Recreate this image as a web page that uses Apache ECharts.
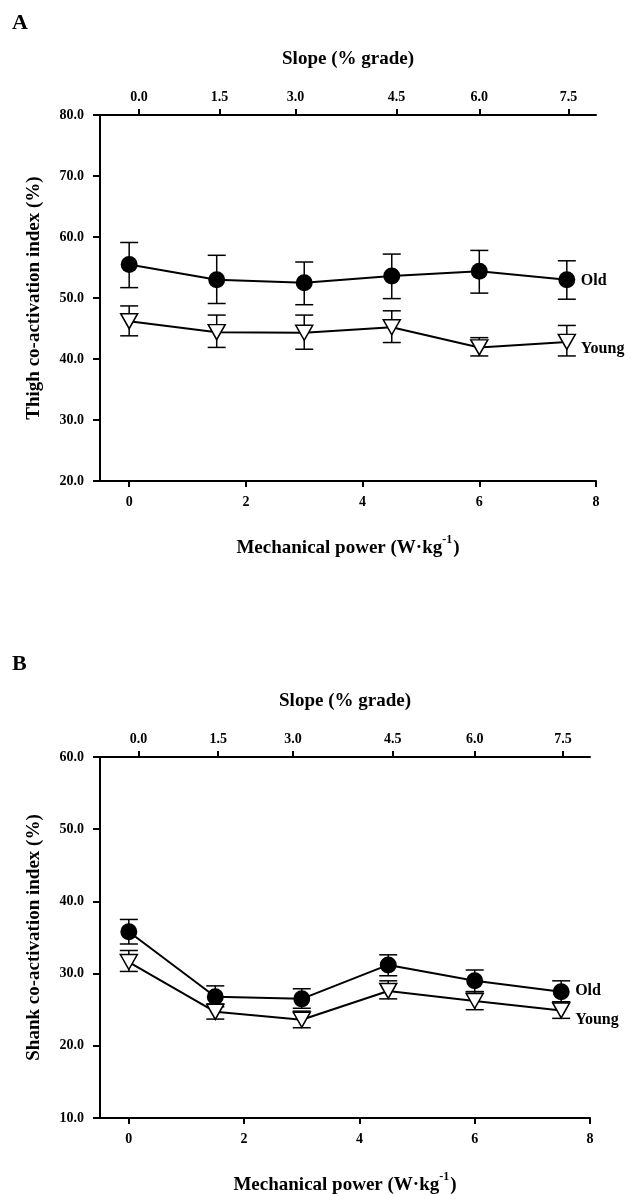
<!DOCTYPE html>
<html>
<head>
<meta charset="utf-8">
<script src="https://cdn.jsdelivr.net/npm/echarts@6/dist/echarts.min.js"></script>
<style>
  html, body { margin: 0; padding: 0; background: #fff; }
  #chart { width: 642px; height: 1194px; }
</style>
</head>
<body>
<div id="chart"></div>
<script>
// mechanical power (W/kg) at each slope step
const powerX = [0, 1.5, 3, 4.5, 6, 7.5];
const powerTicks = [0, 2, 4, 6, 8];

// top axis: slope labels and where they sit on the power scale
const slopeLabels = ['0.0', '1.5', '3.0', '4.5', '6.0', '7.5'];
const slopeTickAt = [0.17, 1.55, 2.85, 4.58, 6.0, 7.53];

// A: thigh co-activation index (%)
const thighOld = [55.5, 53.0, 52.5, 53.6, 54.4, 53.0];
const thighOldHi = [59.1, 57.0, 55.9, 57.2, 57.8, 56.1];
const thighOldLo = [51.7, 49.1, 48.9, 49.9, 50.8, 49.8];
const thighYoung = [46.2, 44.4, 44.3, 45.2, 41.9, 42.8];
const thighYoungHi = [48.7, 47.2, 47.2, 47.9, 43.5, 45.5];
const thighYoungLo = [43.8, 41.9, 41.6, 42.7, 40.5, 40.5];

// B: shank co-activation index (%)
const shankOld = [35.8, 26.8, 26.5, 31.2, 29.0, 27.5];
const shankOldHi = [37.5, 28.3, 27.9, 32.6, 30.5, 29.0];
const shankOldLo = [34.1, 25.4, 25.2, 29.7, 27.5, 26.1];
const shankYoung = [31.6, 24.7, 23.6, 27.6, 26.2, 24.9];
const shankYoungHi = [33.2, 25.8, 24.8, 29.0, 27.5, 26.1];
const shankYoungLo = [30.3, 23.7, 22.5, 26.5, 25.0, 23.8];

const FONT = 'Liberation Serif';
const txt = { fontFamily: FONT, fontWeight: 'bold', color: '#000' };

const pairs = (ys) => powerX.map((x, i) => [x, ys[i]]);
const bars = (lo, hi) => powerX.map((x, i) => [x, lo[i], hi[i]]);

function renderErr(params, api) {
  const x = api.value(0);
  const lo = api.coord([x, api.value(1)]);
  const hi = api.coord([x, api.value(2)]);
  const w = 9;
  const st = { stroke: '#000', lineWidth: 1.5 };
  return {
    type: 'group',
    children: [
      { type: 'line', shape: { x1: lo[0], y1: lo[1], x2: hi[0], y2: hi[1] }, style: st },
      { type: 'line', shape: { x1: lo[0] - w, y1: lo[1], x2: lo[0] + w, y2: lo[1] }, style: st },
      { type: 'line', shape: { x1: hi[0] - w, y1: hi[1], x2: hi[0] + w, y2: hi[1] }, style: st },
    ],
  };
}

function bottomAxis(gridIndex) {
  return {
    type: 'value',
    gridIndex,
    position: 'bottom',
    min: -0.5,
    max: 8,
    name: '{b|Mechanical power (W·kg}{sup|-1}{b|)}',
    nameLocation: 'middle',
    nameGap: 53,
    nameTextStyle: {
      ...txt,
      fontSize: 19,
      rich: {
        b: { ...txt, fontSize: 19, lineHeight: 24, verticalAlign: 'bottom' },
        sup: { ...txt, fontSize: 12, lineHeight: 24, verticalAlign: 'top', padding: [0, 1, 10, 0] },
      },
    },
    axisLine: { onZero: false, lineStyle: { color: '#000', width: 2 } },
    axisTick: { customValues: powerTicks, length: 6, lineStyle: { color: '#000', width: 2 } },
    axisLabel: { customValues: powerTicks, ...txt, fontSize: 14, margin: 14 },
    splitLine: { show: false },
  };
}

function topAxis(gridIndex) {
  return {
    type: 'value',
    gridIndex,
    position: 'top',
    min: -0.5,
    max: 8,
    name: 'Slope (% grade)',
    nameLocation: 'middle',
    nameGap: 46,
    nameTextStyle: { ...txt, fontSize: 19 },
    axisLine: { onZero: false, lineStyle: { color: '#000', width: 2 } },
    axisTick: { customValues: slopeTickAt, length: 6, lineStyle: { color: '#000', width: 2 } },
    axisLabel: {
      customValues: slopeTickAt,
      ...txt,
      fontSize: 14,
      margin: 11,
      formatter: (v) => slopeLabels[slopeTickAt.indexOf(v)],
    },
    splitLine: { show: false },
  };
}

function leftAxis(gridIndex, min, max, name) {
  return {
    type: 'value',
    gridIndex,
    min,
    max,
    interval: 10,
    name,
    nameLocation: 'middle',
    nameGap: 56,
    nameTextStyle: { ...txt, fontSize: 19 },
    axisLine: { show: true, onZero: false, lineStyle: { color: '#000', width: 2 } },
    axisTick: { show: true, length: 7, lineStyle: { color: '#000', width: 2 } },
    axisLabel: { ...txt, fontSize: 14, margin: 16, formatter: (v) => v.toFixed(1) },
    splitLine: { show: false },
  };
}

const endLbl = (offset) => ({
  show: true,
  formatter: '{a}',
  distance: 14,
  offset,
  ...txt,
  fontSize: 16,
});

function oldLine(name, xi, yi, data, offset) {
  return {
    name,
    type: 'line',
    xAxisIndex: xi,
    yAxisIndex: yi,
    data,
    z: 3,
    symbol: 'circle',
    symbolSize: 17,
    itemStyle: { color: '#000' },
    lineStyle: { color: '#000', width: 2 },
    endLabel: endLbl(offset),
    animation: false,
  };
}

function youngLine(name, xi, yi, data, offset) {
  return {
    name,
    type: 'line',
    xAxisIndex: xi,
    yAxisIndex: yi,
    data,
    z: 3,
    symbol: 'triangle',
    symbolRotate: 180,
    symbolSize: [17, 15],
    itemStyle: { color: '#fff', borderColor: '#000', borderWidth: 1.5 },
    lineStyle: { color: '#000', width: 2 },
    endLabel: endLbl(offset),
    animation: false,
  };
}

function errSeries(xi, yi, data) {
  return {
    type: 'custom',
    xAxisIndex: xi,
    yAxisIndex: yi,
    renderItem: renderErr,
    data,
    z: 2,
    silent: true,
    animation: false,
  };
}

const chart = echarts.init(document.getElementById('chart'), null, { renderer: 'canvas' });

chart.setOption({
  backgroundColor: '#fff',
  animation: false,
  graphic: [
    { type: 'text', left: 12, top: 12, style: { text: 'A', font: 'bold 22px "Liberation Serif"', fill: '#000' } },
    { type: 'text', left: 12, top: 653, style: { text: 'B', font: 'bold 22px "Liberation Serif"', fill: '#000' } },
  ],
  grid: [
    { left: 100, top: 115, width: 496, height: 366, outerBoundsMode: 'none' },
    { left: 100, top: 757, width: 490, height: 361, outerBoundsMode: 'none' },
  ],
  xAxis: [bottomAxis(0), topAxis(0), bottomAxis(1), topAxis(1)],
  yAxis: [
    leftAxis(0, 20, 80, 'Thigh co-activation index (%)'),
    leftAxis(1, 10, 60, 'Shank co-activation index (%)'),
  ],
  series: [
    errSeries(0, 0, bars(thighOldLo, thighOldHi)),
    errSeries(0, 0, bars(thighYoungLo, thighYoungHi)),
    oldLine('Old', 0, 0, pairs(thighOld), [0, 1]),
    youngLine('Young', 0, 0, pairs(thighYoung), [0, 7]),
    errSeries(2, 1, bars(shankOldLo, shankOldHi)),
    errSeries(2, 1, bars(shankYoungLo, shankYoungHi)),
    oldLine('Old', 2, 1, pairs(shankOld), [0, -1]),
    youngLine('Young', 2, 1, pairs(shankYoung), [0, 9]),
  ],
});
</script>
</body>
</html>
